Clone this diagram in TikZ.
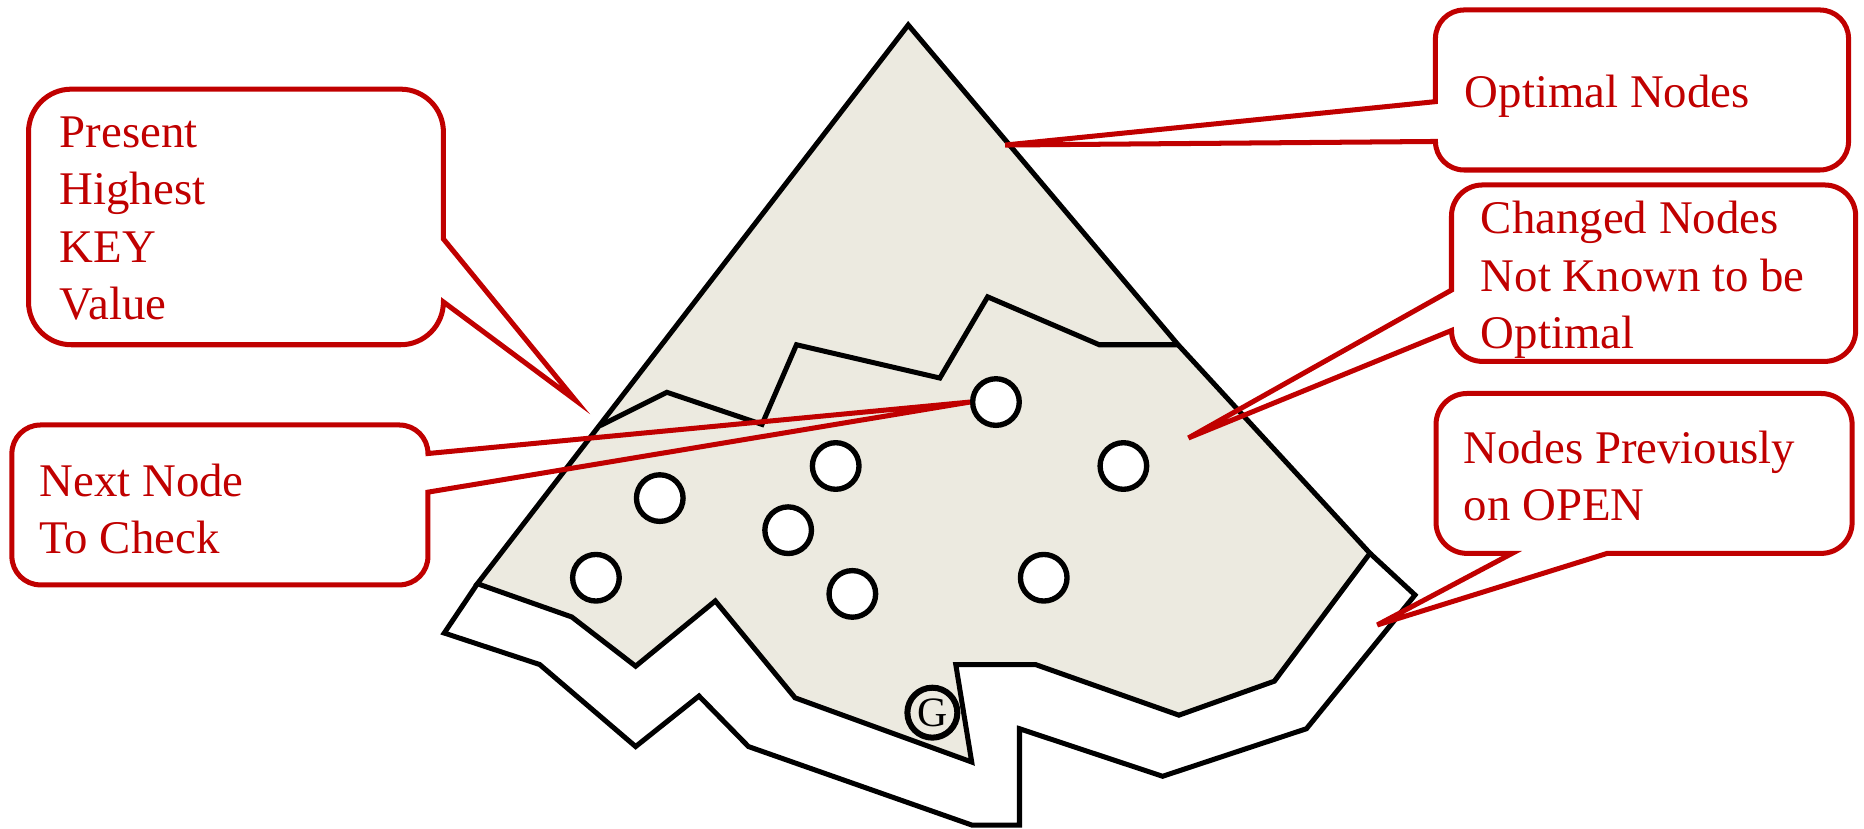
\documentclass[tikz,border=0pt]{standalone}
\usepackage{fontspec}
\setmainfont{Liberation Serif}
\definecolor{calred}{RGB}{192,0,0}
\definecolor{regiongray}{RGB}{236,234,224}
\begin{document}
\begin{tikzpicture}[x=0.025cm,y=-0.025cm,
  outline/.style={draw=black, line width=3pt, line join=miter},
  callout/.style={draw=calred, line width=3pt},
  calltext/.style={text=calred, font=\fontsize{28}{34.3}\selectfont, align=left, inner sep=0pt, anchor=north west},
  opennode/.style={circle, draw=black, line width=3.2pt, fill=white, minimum size=0.98cm, inner sep=0pt}]
\useasboundingbox (0,0) rectangle (1568,697);

% outer region (nodes previously on OPEN)
\draw[outline, fill=white] (401.6,491) -- (373.7,532.5) -- (454,559) -- (534.7,628) -- (588,585.5) -- (629.6,628) -- (817.4,694) -- (857.6,694) -- (857.6,613) -- (978,653) -- (1099,613) -- (1190.3,500.5) -- (1152.4,465.4);

% searched region
\draw[outline, fill=regiongray] (764,21) -- (991,290) -- (1152.4,465.4) -- (1072,573) -- (991.7,601.6) -- (871,559) -- (804,559) -- (817.4,641) -- (668.8,587) -- (601.7,505.5) -- (534.7,560.4) -- (481,519) -- (401.6,491) -- cycle;

% optimal nodes boundary
\draw[outline] (505,358) -- (561,330) -- (641,357) -- (670,290) -- (790.6,318) -- (830.8,249.7) -- (924.7,290) -- (991,290);

% nodes
\node[opennode] (n1) at (837.8,338.2) {};
\node[opennode] (n2) at (703,392) {};
\node[opennode] (n3) at (945,392) {};
\node[opennode] (n4) at (555,419) {};
\node[opennode] (n5) at (663,446) {};
\node[opennode] (n6) at (501.3,486) {};
\node[opennode] (n7) at (717,499.6) {};
\node[opennode] (n8) at (878,486) {};
\node[circle, draw=black, line width=3.6pt, minimum size=1.05cm, inner sep=0pt, font=\fontsize{25}{25}\selectfont] (goal) at (784.3,599.5) {G};

% callout tips
\coordinate (tipA) at (484,336.6);
\coordinate (tipC) at (845.6,122);
\coordinate (tipD) at (999.7,368.4);
\coordinate (tipE) at (1158.6,525.7);

% callouts
\draw[callout] (60,75) -- (337,75) arc[start angle=270,end angle=360,radius=36] -- (373,201) -- (tipA) -- (373,254) arc[start angle=0,end angle=90,radius=36] -- (60,290) arc[start angle=90,end angle=180,radius=36] -- (24,111) arc[start angle=180,end angle=270,radius=36] -- cycle;

\draw[callout] (34,357.5) -- (336,357.5) arc[start angle=270,end angle=360,radius=24] -- (n1.west) -- (360,414) -- (360,468) arc[start angle=0,end angle=90,radius=24] -- (34,492) arc[start angle=90,end angle=180,radius=24] -- (10,381.5) arc[start angle=180,end angle=270,radius=24] -- cycle;

\draw[callout] (1231.5,8.4) -- (1531,8.4) arc[start angle=270,end angle=360,radius=24] -- (1555,119) arc[start angle=0,end angle=90,radius=24] -- (1231.5,143) arc[start angle=90,end angle=180,radius=24] -- (tipC) -- (1207.5,85.5) -- (1207.5,32.4) arc[start angle=180,end angle=270,radius=24] -- cycle;

\draw[callout] (1247,155.6) -- (1535,155.6) arc[start angle=270,end angle=360,radius=26] -- (1561,278) arc[start angle=0,end angle=90,radius=26] -- (1247,304) arc[start angle=90,end angle=180,radius=26] -- (tipD) -- (1221,244) -- (1221,181.6) arc[start angle=180,end angle=270,radius=26] -- cycle;

\draw[callout] (1234,331) -- (1532,331) arc[start angle=270,end angle=360,radius=26] -- (1558,439.5) arc[start angle=0,end angle=90,radius=26] -- (1352,465.5) -- (tipE) -- (1272,465.5) -- (1234,465.5) arc[start angle=90,end angle=180,radius=26] -- (1208,357) arc[start angle=180,end angle=270,radius=26] -- cycle;

% texts
\node[calltext] (present) at (50,98) {Present\\Highest\\KEY\\Value};
\node[calltext] (next) at (33,390) {Next Node\\To Check};
\node[calltext] (optimal) at (1232,63) {Optimal Nodes};
\node[calltext] (changed) at (1245.5,169) {Changed Nodes\\Not Known to be\\Optimal};
\node[calltext] (previous) at (1231,362) {Nodes Previously\\on OPEN};
\end{tikzpicture}
\end{document}
